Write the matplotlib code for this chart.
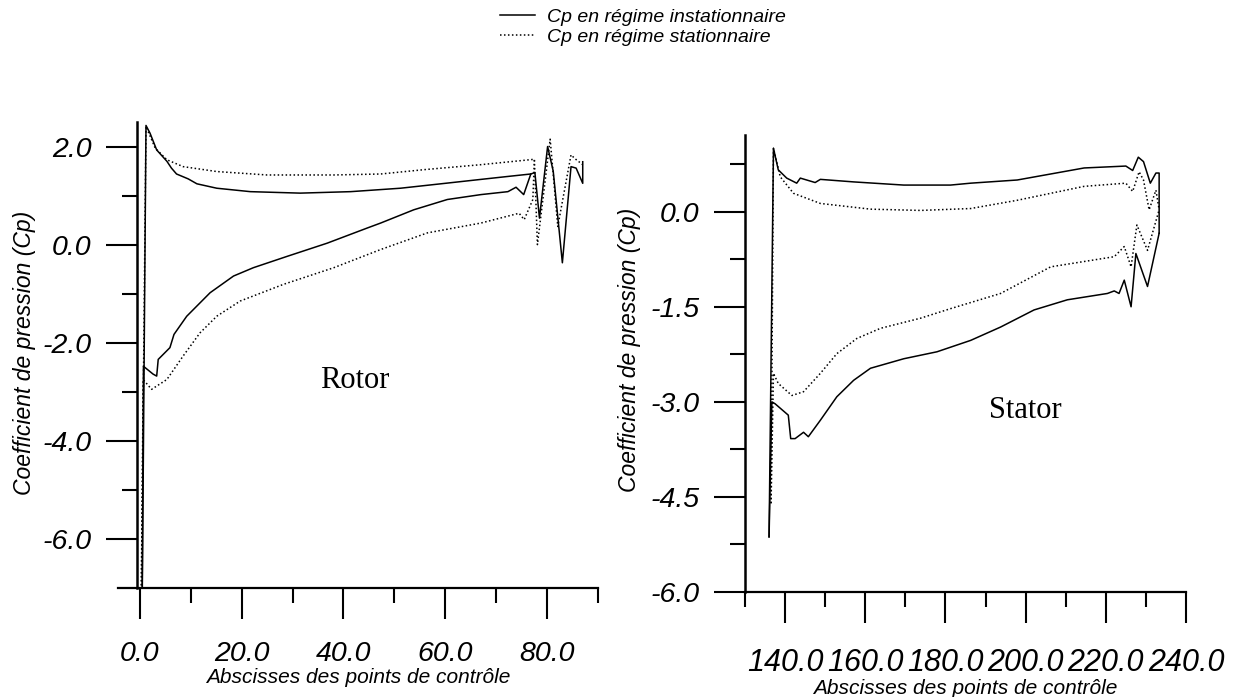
import matplotlib
matplotlib.use("Agg")
from matplotlib import pyplot as plt
from matplotlib.lines import Line2D
from matplotlib.ticker import FixedLocator, FormatStrFormatter

plt.rcParams['font.family'] = ['Liberation Sans', 'DejaVu Sans']
plt.rcParams['axes.unicode_minus'] = False

# Rotor: Cp along the blade, unsteady (solid) and steady (dotted)
rotor_unst_up_x = [0.4, 1.2, 2.0, 3.3, 5.3, 6.2, 7.2, 9.5, 11.2, 15.1, 21.7, 31.5, 41.4, 51.2,
                   60.0, 67.0, 72.3, 76.8, 77.6, 78.5, 80.1, 81.2, 83.0, 84.7, 85.7, 87.0, 87.0]
rotor_unst_up_cp = [-8.0, 2.43, 2.27, 1.93, 1.70, 1.56, 1.44, 1.34, 1.24, 1.15, 1.08, 1.05, 1.08, 1.15,
                    1.25, 1.33, 1.39, 1.44, 1.47, 0.54, 2.0, 1.5, -0.37, 1.59, 1.56, 1.25, 1.69]
rotor_unst_lo_x = [0.4, 0.7, 2.6, 3.3, 3.6, 5.9, 6.7, 9.2, 13.8, 18.4, 22.3, 28.9, 36.8, 44.7,
                   47.3, 53.8, 60.4, 67.0, 72.3, 73.9, 75.4, 76.8]
rotor_unst_lo_cp = [-8.0, -2.48, -2.64, -2.68, -2.34, -2.10, -1.83, -1.46, -0.98, -0.64, -0.47, -0.24, 0.03, 0.34,
                    0.44, 0.71, 0.92, 1.02, 1.08, 1.17, 1.02, 1.44]
rotor_st_up_x = [0.2, 1.2, 3.0, 5.3, 8.5, 15.1, 25.0, 38.1, 47.3, 56.0, 67.0, 77.5, 78.1, 80.6,
                 82.1, 84.7, 85.5, 87.0]
rotor_st_up_cp = [-8.0, 2.41, 1.97, 1.73, 1.59, 1.49, 1.42, 1.42, 1.44, 1.53, 1.63, 1.74, 0.0, 2.15,
                  0.37, 1.83, 1.75, 1.63]
rotor_st_lo_x = [0.2, 0.65, 2.3, 5.3, 8.5, 11.8, 15.1, 19.7, 28.2, 38.1, 47.3, 56.5, 67.0, 74.5,
                 75.5, 77.2, 77.5]
rotor_st_lo_cp = [-8.0, -2.75, -2.95, -2.75, -2.27, -1.80, -1.46, -1.15, -0.81, -0.47, -0.10, 0.24, 0.44, 0.64,
                  0.51, 0.92, 1.74]

# Stator
stator_unst_up_x = [136.0, 137.1, 138.3, 140.4, 142.9, 143.8, 147.5, 148.8, 157.1, 169.6, 181.25, 186.3,
                    197.9, 214.6, 225.0, 226.7, 228.1, 229.4, 231.1, 232.5, 233.3, 233.3]
stator_unst_up_cp = [-5.13, 1.0, 0.66, 0.53, 0.45, 0.53, 0.46, 0.51, 0.47, 0.42, 0.42, 0.45,
                     0.50, 0.69, 0.72, 0.65, 0.86, 0.79, 0.45, 0.61, 0.61, -0.34]
stator_unst_lo_x = [136.0, 136.7, 137.5, 140.8, 141.4, 142.5, 144.6, 145.8, 148.8, 152.9, 157.1, 161.3,
                    169.6, 177.9, 186.3, 193.75, 202.1, 210.4, 220.4, 222.1, 223.3, 224.6, 226.3,
                    227.5, 230.4, 233.3]
stator_unst_lo_cp = [-5.13, -3.0, -3.03, -3.21, -3.58, -3.58, -3.48, -3.55, -3.29, -2.92, -2.66, -2.47,
                     -2.32, -2.21, -2.03, -1.82, -1.55, -1.39, -1.29, -1.25, -1.29, -1.08, -1.50,
                     -0.66, -1.18, -0.34]
stator_st_up_x = [136.5, 137.1, 138.8, 142.1, 148.8, 161.3, 173.8, 186.3, 197.9, 214.6, 225.0, 226.7,
                  228.3, 229.4, 230.8, 232.5, 233.3]
stator_st_up_cp = [-4.6, 1.0, 0.55, 0.29, 0.13, 0.04, 0.02, 0.05, 0.18, 0.40, 0.45, 0.32,
                   0.63, 0.50, 0.03, 0.34, 0.03]
stator_st_lo_x = [136.5, 137.1, 138.3, 141.7, 144.6, 148.8, 152.9, 157.9, 163.8, 173.8, 181.25, 193.75,
                  206.25, 222.1, 224.6, 226.3, 227.75, 230.4, 233.3]
stator_st_lo_cp = [-4.6, -2.55, -2.71, -2.90, -2.84, -2.55, -2.24, -2.0, -1.84, -1.68, -1.53, -1.29,
                   -0.87, -0.71, -0.55, -0.87, -0.21, -0.61, 0.03]

rotor_yticks = [2.0, 0.0, -2.0, -4.0, -6.0]
rotor_xticks = [0.0, 20.0, 40.0, 60.0, 80.0]
stator_yticks = [0.0, -1.5, -3.0, -4.5, -6.0]
stator_xticks = [140.0, 160.0, 180.0, 200.0, 220.0, 240.0]

legend_labels = ["Cp en régime instationnaire", "Cp en régime stationnaire"]
xlabel = "Abscisses des points de contrôle"
ylabel = "Coefficient de pression (Cp)"

W, H = 1236, 697
fig = plt.figure(figsize=(W / 100, H / 100), dpi=100)


def px_axes(x0, y0, x1, y1):
    # pixel box (top-left origin) -> figure axes
    return fig.add_axes([x0 / W, 1 - y1 / H, (x1 - x0) / W, (y1 - y0) / H])


solid = dict(color='black', lw=1.1, ls='-')
dotted = dict(color='black', lw=1.1, ls=(0, (1, 1.6)))


def style_axes(ax, spine_x, xtick_size, xpad):
    for s in ['top', 'right']:
        ax.spines[s].set_visible(False)
    ax.spines['left'].set_position(('data', spine_x))
    ax.spines['left'].set_linewidth(1.8)
    ax.spines['bottom'].set_linewidth(1.6)
    ax.tick_params(which='major', direction='out', length=22, width=1.5)
    ax.tick_params(which='minor', direction='out', length=11, width=1.5)
    ax.tick_params(axis='y', which='major', pad=11)
    ax.tick_params(axis='x', which='major', pad=xpad)
    ax.xaxis.set_major_formatter(FormatStrFormatter('%.1f'))
    ax.yaxis.set_major_formatter(FormatStrFormatter('%.1f'))
    for lab in ax.get_yticklabels():
        lab.set_fontsize(20.5)
        lab.set_style('italic')
    for lab in ax.get_xticklabels():
        lab.set_fontsize(xtick_size)
        lab.set_style('italic')
    ax.set_xlabel(xlabel, fontsize=15, style='italic', va='center')
    ax.set_ylabel(ylabel, fontsize=16.5, style='italic')


# Rotor
ax1 = px_axes(118, 122, 598, 588)
ax1.plot(rotor_unst_up_x, rotor_unst_up_cp, **solid)
ax1.plot(rotor_unst_lo_x, rotor_unst_lo_cp, **solid)
ax1.plot(rotor_st_up_x, rotor_st_up_cp, **dotted)
ax1.plot(rotor_st_lo_x, rotor_st_lo_cp, **dotted)
ax1.set_xlim(-4.3, 90)
ax1.set_ylim(-7.0, 2.5)
ax1.xaxis.set_major_locator(FixedLocator(rotor_xticks))
ax1.xaxis.set_minor_locator(FixedLocator([10, 30, 50, 70, 90]))
ax1.yaxis.set_major_locator(FixedLocator(rotor_yticks))
ax1.yaxis.set_minor_locator(FixedLocator([1, -1, -3, -5]))
style_axes(ax1, -0.5, 20.5, 16)
ax1.yaxis.set_label_coords(-0.17, 0.505)
ax1.xaxis.set_label_coords(0.5, -0.191)
ax1.text(42.2, -2.77, "Rotor", family='Liberation Serif', fontsize=22, ha='center', va='center')

# Stator
ax2 = px_axes(745, 135, 1186, 592)
ax2.plot(stator_unst_up_x, stator_unst_up_cp, **solid)
ax2.plot(stator_unst_lo_x, stator_unst_lo_cp, **solid)
ax2.plot(stator_st_up_x, stator_st_up_cp, **dotted)
ax2.plot(stator_st_lo_x, stator_st_lo_cp, **dotted)
ax2.set_xlim(130, 240)
ax2.set_ylim(-6.0, 1.21)
ax2.xaxis.set_major_locator(FixedLocator(stator_xticks))
ax2.xaxis.set_minor_locator(FixedLocator([130, 150, 170, 190, 210, 230]))
ax2.yaxis.set_major_locator(FixedLocator(stator_yticks))
ax2.yaxis.set_minor_locator(FixedLocator([0.75, -0.75, -2.25, -3.75, -5.25]))
style_axes(ax2, 130, 22, 18)
ax2.yaxis.set_label_coords(-0.235, 0.53)
ax2.xaxis.set_label_coords(0.5, -0.212)
ax2.text(200, -3.13, "Stator", family='Liberation Serif', fontsize=22, ha='center', va='center')

handles = [Line2D([], [], **solid), Line2D([], [], **dotted)]
fig.legend(handles, legend_labels, loc='upper left', bbox_to_anchor=(500 / W, 1 - 8 / H),
           frameon=False, handlelength=1.8, handletextpad=0.6, labelspacing=0.15,
           borderpad=0, borderaxespad=0, prop=dict(size=14, style='italic'))

fig.savefig("out.png", dpi=100)
